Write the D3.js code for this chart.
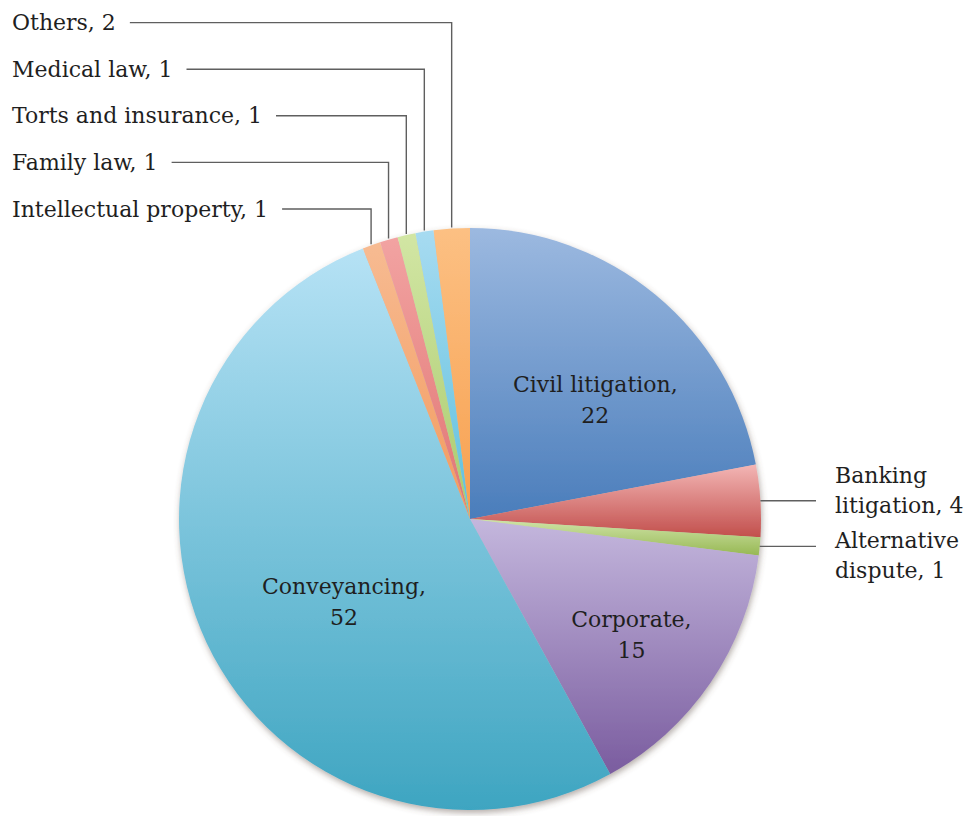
<!DOCTYPE html>
<html>
<head>
<meta charset="utf-8">
<script src="https://cdn.jsdelivr.net/npm/d3@7/dist/d3.min.js"></script>
<style>
  html, body { margin: 0; padding: 0; background: #ffffff; }
  svg { display: block; }
  text { font-family: "DejaVu Serif", "Liberation Serif", serif; font-size: 22px; fill: #1f1f1f; }
</style>
</head>
<body>
<svg id="chart" width="968" height="816"></svg>
<script>
// Practice areas and number of lawyers in each
const categories = [
  "Civil litigation", "Banking litigation", "Alternative dispute", "Corporate",
  "Conveyancing", "Intellectual property", "Family law", "Torts and insurance",
  "Medical law", "Others"
];
const values = [22, 4, 1, 15, 52, 1, 1, 1, 1, 2];

// Slice shading: light tone at the top of each slice, deep tone at the bottom
const colorsLight = ["#9cb9e0", "#f3b6b5", "#d0e4a8", "#c4b7dd", "#b6e2f5", "#f7bb92", "#f2a3a2", "#d2e6a4", "#a7dbf1", "#fcc083"];
const colorsDark  = ["#4a7dbb", "#c24f4c", "#97b854", "#7a5c9f", "#3ea5c1", "#f29a5e", "#e07572", "#a9ca6d", "#5ec0dd", "#f7a04f"];

const data = categories.map((c, i) => ({ name: c, value: values[i], i }));

const W = 968, H = 816;
const cx = 470, cy = 519, R = 291;

const svg = d3.select("#chart");
const defs = svg.append("defs");

const shadow = defs.append("filter").attr("id", "pieShadow")
  .attr("x", "-10%").attr("y", "-10%").attr("width", "120%").attr("height", "120%");
shadow.append("feDropShadow")
  .attr("dx", 1).attr("dy", 3).attr("stdDeviation", 3)
  .attr("flood-color", "#5a4a40").attr("flood-opacity", 0.45);

data.forEach(d => {
  const g = defs.append("linearGradient").attr("id", "grad" + d.i)
    .attr("x1", 0).attr("y1", 0).attr("x2", 0).attr("y2", 1);
  g.append("stop").attr("offset", "0%").attr("stop-color", colorsLight[d.i]);
  g.append("stop").attr("offset", "100%").attr("stop-color", colorsDark[d.i]);
});

const pie = d3.pie().value(d => d.value).sort(null);
const arcs = pie(data);
const arc = d3.arc().innerRadius(0).outerRadius(R);

const gPie = svg.append("g").attr("transform", `translate(${cx},${cy})`)
  .attr("filter", "url(#pieShadow)");

gPie.selectAll("path.slice").data(arcs).enter().append("path")
  .attr("class", "slice")
  .attr("d", arc)
  .attr("fill", d => `url(#grad${d.data.i})`);

const midAngle = d => (d.startAngle + d.endAngle) / 2;
const edgePoint = (d, r) => [r * Math.sin(midAngle(d)), -r * Math.cos(midAngle(d))];

const gLab = svg.append("g").attr("transform", `translate(${cx},${cy})`);
const leaderColor = "#5f5f5f";

// Inside labels for the large slices
const labelArc = d3.arc().innerRadius(R * 0.6).outerRadius(R * 0.6);
const insideNudge = { "Conveyancing": [32, 7], "Civil litigation": [14, 14], "Corporate": [17, 16] };
const inside = arcs.filter(d => d.data.value >= 10);
inside.forEach(d => {
  const [x0, y0] = labelArc.centroid(d);
  const n = insideNudge[d.data.name] || [0, 0];
  const x = x0 + n[0], y = y0 + n[1];
  const t = gLab.append("text").attr("text-anchor", "middle");
  t.append("tspan").attr("x", x).attr("y", y - 6).text(d.data.name + ",");
  t.append("tspan").attr("x", x).attr("y", y + 25).text(d.data.value);
});

const outside = arcs.filter(d => d.data.value < 10);
const rightSide = outside.filter(d => midAngle(d) < Math.PI);
const leftSide = outside.filter(d => midAngle(d) >= Math.PI);

// Right-hand labels: short horizontal leaders, text wrapped into a narrow column
const rightTextX = 835 - cx;
const rightLineEnd = 816 - cx;
const blockSep = 65;
const rightItems = rightSide.map(d => ({ d, p: edgePoint(d, R) }));
rightItems.forEach(it => it.cy = it.p[1]);
// spread overlapping label blocks apart around their common mean
for (let k = 0; k < rightItems.length - 1; k++) {
  const a = rightItems[k], b = rightItems[k + 1];
  if (b.cy - a.cy < blockSep) {
    const m = (a.cy + b.cy) / 2;
    a.cy = m - blockSep / 2; b.cy = m + blockSep / 2;
  }
}
function wrapWords(str, maxW) {
  const probe = gLab.append("text").attr("visibility", "hidden");
  const words = str.split(" ");
  const lines = [];
  let cur = "";
  words.forEach(w => {
    const test = cur ? cur + " " + w : w;
    probe.text(test);
    if (probe.node().getComputedTextLength() > maxW && cur) { lines.push(cur); cur = w; }
    else cur = test;
  });
  if (cur) lines.push(cur);
  probe.remove();
  return lines;
}
rightItems.forEach(it => {
  gLab.append("line")
    .attr("x1", it.p[0]).attr("y1", it.p[1])
    .attr("x2", rightLineEnd).attr("y2", it.p[1])
    .attr("stroke", leaderColor).attr("stroke-width", 1.4);
  const lines = wrapWords(`${it.d.data.name}, ${it.d.data.value}`, 134);
  const t = gLab.append("text").attr("text-anchor", "start");
  lines.forEach((ln, j) => {
    t.append("tspan").attr("x", rightTextX).attr("y", it.cy - 8 + j * 29.5).text(ln);
  });
});

// Left-hand labels: stacked column with elbow leaders up from the slice tips
const leftTextX = 12 - cx;
const leftTop = 22.6 - cy, leftStep = 46.6;
const leftItems = leftSide.slice().sort((a, b) => midAngle(b) - midAngle(a));
leftItems.forEach((d, k) => {
  const ly = leftTop + k * leftStep;
  const t = gLab.append("text").attr("x", leftTextX).attr("y", ly + 7.5)
    .text(`${d.data.name}, ${d.data.value}`);
  const tw = t.node().getComputedTextLength();
  const p = edgePoint(d, R + 1);
  gLab.append("polyline")
    .attr("points", `${leftTextX + tw + 14},${ly} ${p[0]},${ly} ${p[0]},${p[1]}`)
    .attr("fill", "none").attr("stroke", leaderColor).attr("stroke-width", 1.4);
});
</script>
</body>
</html>
